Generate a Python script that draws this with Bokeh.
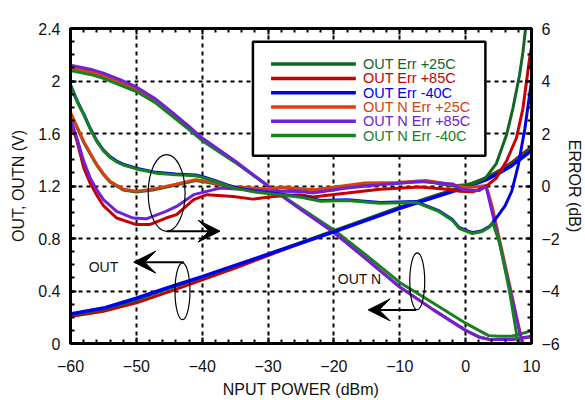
from bokeh.plotting import figure
from bokeh.models import Range1d, LinearAxis, FixedTicker, Arrow, VeeHead, ColumnDataSource
from bokeh.core.properties import value
from bokeh.embed import file_html
from bokeh.resources import INLINE

FONT = "Liberation Sans"

# ---------------- data ----------------
C_OUT25 = "#146428"
C_OUT85 = "#c80000"
C_OUT40 = "#0000f0"
C_N25 = "#d94010"
C_N85 = "#7020d8"
C_N40 = "#17801f"

legend_labels = ["OUT Err +25C", "OUT Err +85C", "OUT Err  -40C",
                 "OUT N Err +25C", "OUT N Err +85C", "OUT N Err  -40C"]
legend_colors = [C_OUT25, C_OUT85, C_OUT40, C_N25, C_N85, C_N40]

x_ticks = [-60, -50, -40, -30, -20, -10, 0, 10]
v_ticks = [0, 0.4, 0.8, 1.2, 1.6, 2, 2.4]
v_tick_labels = ["0", "0.4", "0.8", "1.2", "1.6", "2", "2.4"]
e_ticks = [-6, -4, -2, 0, 2, 4, 6]

x_title = "NPUT POWER (dBm)"
y_title = "OUT, OUTN (V)"
y2_title = "ERROR (dB)"

# OUT voltage (V)
x_out_v = [-60, -55, -50, -45, -40, -35, -30, -25, -20, -15, -10, -5, 0, 3, 5, 7, 10]
out_v_40 = [0.225, 0.27, 0.345, 0.43, 0.51, 0.595, 0.68, 0.765, 0.85, 0.94, 1.03, 1.11, 1.19, 1.245, 1.295, 1.355, 1.47]
out_v_25 = [0.215, 0.26, 0.33, 0.42, 0.505, 0.59, 0.68, 0.77, 0.86, 0.95, 1.04, 1.12, 1.2, 1.26, 1.31, 1.37, 1.49]
out_v_85 = [0.205, 0.245, 0.31, 0.395, 0.485, 0.575, 0.67, 0.765, 0.855, 0.945, 1.035, 1.12, 1.2, 1.26, 1.315, 1.38, 1.5]

# OUT N voltage (V)
x_outn_v = [-60, -57, -55, -52, -50, -47, -45, -42, -40, -35, -30, -25, -20, -15, -10, -5, 0, 2, 3.5, 5, 7, 10]
outn_v_85 = [2.12, 2.09, 2.06, 2.0, 1.955, 1.86, 1.78, 1.655, 1.565, 1.39, 1.2, 1.02, 0.845, 0.64, 0.43, 0.26, 0.1, 0.05, 0.033, 0.03, 0.03, 0.055]
outn_v_25 = [2.10, 2.07, 2.04, 1.98, 1.94, 1.85, 1.77, 1.645, 1.555, 1.385, 1.2, 1.02, 0.845, 0.64, 0.43, 0.26, 0.1, 0.05, 0.033, 0.03, 0.03, 0.05]
outn_v_40 = [2.08, 2.05, 2.02, 1.96, 1.92, 1.83, 1.75, 1.63, 1.545, 1.38, 1.2, 1.03, 0.865, 0.67, 0.465, 0.31, 0.155, 0.1, 0.06, 0.055, 0.055, 0.096]

# Errors (dB)
x_err_out40 = [-60, -59, -58, -57, -56, -55, -54, -53, -52, -50, -47, -44, -41, -40, -38, -35, -32, -30, -25, -22, -18, -13, -7.5, -6.5, -4, -2, -1, 1, 2.5, 3.6, 4.1, 5, 6, 7, 8, 9, 10]
err_out40 = [3.85, 3.25, 2.75, 2.2, 1.72, 1.37, 1.12, 0.95, 0.83, 0.68, 0.52, 0.46, 0.42, 0.36, 0.2, -0.06, -0.2, -0.26, -0.4, -0.55, -0.52, -0.63, -0.59, -0.7, -0.95, -1.28, -1.58, -1.78, -1.7, -1.54, -1.4, -1.1, -0.75, -0.2, 0.8, 2.2, 4.0]

x_err_n40 = [-60, -59, -58, -57, -56, -55, -54, -53, -52, -50, -47, -44, -41, -40, -38, -35, -32, -30, -25, -22, -18, -13, -7.5, -6.5, -4, -2, -1, 1, 2.5, 3.6, 4.1, 5.15, 6.7, 7.7, 8.0]
err_n40 = [3.82, 3.22, 2.72, 2.17, 1.69, 1.34, 1.09, 0.92, 0.8, 0.65, 0.49, 0.43, 0.39, 0.33, 0.17, -0.09, -0.23, -0.29, -0.43, -0.58, -0.55, -0.66, -0.62, -0.73, -0.98, -1.31, -1.61, -1.81, -1.73, -1.57, -1.4, -2.15, -4.06, -5.58, -6.0]

x_err_n25 = [-60, -59, -58, -57, -56, -55, -54, -52, -50, -47.5, -44, -41, -39.3, -35.3, -30, -28, -23, -15.6, -10.5, -6, -2, 0, 2, 3.1, 4.0, 5.6, 8.2, 8.6]
err_n25 = [2.8, 2.25, 1.7, 1.25, 0.82, 0.47, 0.18, -0.12, -0.2, -0.12, 0.07, 0.24, 0.17, -0.02, -0.12, -0.04, -0.14, 0.11, 0.13, 0.21, 0.05, -0.06, -0.02, 0.02, -0.75, -2.55, -5.5, -6.0]

x_err_out25 = [-60, -59, -58, -57, -56, -55, -54, -52, -50, -47.5, -44, -41, -39.3, -35.3, -30, -28, -23, -15.6, -10.5, -6, -2, 0, 1.6, 3.1, 4.65, 6.2, 7.17, 8.18, 8.7, 9.1]
err_out25 = [2.77, 2.22, 1.67, 1.22, 0.79, 0.44, 0.15, -0.15, -0.23, -0.15, 0.04, 0.21, 0.14, -0.05, -0.15, -0.07, -0.17, 0.08, 0.1, 0.18, 0.0, 0.05, 0.12, 0.33, 0.85, 1.94, 2.95, 4.22, 5.1, 6.0]

x_err_n85 = [-60, -59, -58, -57, -56, -55, -53, -50.5, -48.5, -45.5, -43.9, -41.3, -37.3, -33, -30, -25.2, -23.2, -18, -13, -7, -2, -0.5, 2.1, 3.1, 5.6, 8.2, 8.7]
err_n85 = [2.55, 1.8, 0.95, 0.3, -0.15, -0.52, -0.97, -1.22, -1.25, -0.97, -0.78, -0.33, -0.08, -0.14, -0.2, -0.21, -0.27, -0.08, 0.05, 0.17, 0.08, -0.14, -0.17, -0.02, -2.67, -5.57, -6.0]

x_err_out85 = [-60, -59, -58, -57, -56, -55, -53, -50, -48, -45.5, -43.9, -41.3, -39.3, -35.3, -32.3, -29.2, -25.2, -23.2, -18, -13, -7, -2, -0.9, 1.1, 3.1, 4.65, 6.2, 7.7, 8.7, 9.7, 10]
err_out85 = [2.45, 1.7, 0.7, 0.1, -0.35, -0.75, -1.22, -1.47, -1.47, -1.22, -1.09, -0.52, -0.33, -0.4, -0.5, -0.4, -0.33, -0.42, -0.27, -0.12, -0.04, -0.14, -0.2, -0.22, -0.02, 0.3, 0.95, 1.82, 2.95, 4.85, 5.3]

# annotation geometry (data units, left axis)
ell_x = [-45.4, -43.0, -7.35]
ell_y = [1.147, 0.398, 0.474]
ell_w = [5.6, 2.27, 2.27]
ell_h = [0.585, 0.433, 0.433]
arrows = [(-45.35, 0.856, -37.3, 0.856), (-42.8, 0.62, -50.4, 0.62), (-7.5, 0.256, -14.8, 0.256)]
note_text = ["OUT", "OUT N"]
note_x = [-55.0, -16.1]
note_y = [0.58, 0.49]

# legend layout (data units)
leg_box = (-32.3, 3.0, 1.43, 2.30)
leg_line_x0, leg_line_x1, leg_text_x = -29.55, -16.67, -15.6
leg_y0, leg_dy = 2.129, 0.109

# ---------------- figure ----------------
p = figure(width=585, height=400, x_range=Range1d(-60, 10), y_range=Range1d(0, 2.4),
           output_backend="svg", toolbar_location=None,
           min_border_left=70, min_border_right=53, min_border_top=28, min_border_bottom=56)
p.extra_y_ranges = {"err": Range1d(-6, 6)}
p.background_fill_color = "white"
p.border_fill_color = "white"
p.outline_line_color = "black"
p.outline_line_width = 3

x_minor = [v for v in range(-60, 11, 2) if v not in x_ticks]
v_minor = [round(i * 0.1, 1) for i in range(0, 25)]
e_minor = [i * 0.5 for i in range(-12, 13)]


def style_axis(ax):
    ax.axis_line_width = 3
    ax.axis_line_color = "black"
    ax.major_tick_in = 6
    ax.major_tick_out = 0
    ax.minor_tick_in = 4
    ax.minor_tick_out = 0
    ax.major_tick_line_width = 2
    ax.minor_tick_line_width = 2
    ax.major_label_text_font = FONT
    ax.major_label_text_font_size = "16px"
    ax.major_label_text_color = "#111111"
    ax.axis_label_text_font = FONT
    ax.axis_label_text_font_size = "16px"
    ax.axis_label_text_font_style = "normal"
    ax.axis_label_text_color = "#111111"


xa = p.xaxis[0]
xa.ticker = FixedTicker(ticks=x_ticks, minor_ticks=x_minor)
style_axis(xa)
xa.axis_label = x_title
xa.major_label_standoff = 16
xa.axis_label_standoff = 6

ya = p.yaxis[0]
ya.ticker = FixedTicker(ticks=v_ticks, minor_ticks=v_minor)
ya.major_label_overrides = {t: s for t, s in zip(v_ticks, v_tick_labels)}
style_axis(ya)
ya.axis_label = y_title
ya.major_label_standoff = 10
ya.axis_label_standoff = 8

ra = LinearAxis(y_range_name="err", ticker=FixedTicker(ticks=e_ticks, minor_ticks=e_minor))
style_axis(ra)
ra.axis_label = y2_title
ra.major_label_standoff = 10
ra.axis_label_standoff = 3
p.add_layout(ra, "right")

ta = LinearAxis(ticker=FixedTicker(ticks=x_ticks, minor_ticks=x_minor))
style_axis(ta)
ta.major_label_overrides = {t: "" for t in x_ticks}
ta.major_label_standoff = 0
p.add_layout(ta, "above")

for g in (p.xgrid[0], p.ygrid[0]):
    g.grid_line_color = "black"
    g.grid_line_dash = "4 4"
    g.grid_line_width = 2
p.xgrid[0].ticker = FixedTicker(ticks=x_ticks)
p.ygrid[0].ticker = FixedTicker(ticks=v_ticks)

LW = 3
# OUT N voltage
p.line(x_outn_v, outn_v_25, color=C_N25, line_width=LW)
p.line(x_outn_v, outn_v_40, color=C_N40, line_width=LW)
p.line(x_outn_v, outn_v_85, color=C_N85, line_width=LW)
# OUT voltage
p.line(x_out_v, out_v_85, color=C_OUT85, line_width=LW)
p.line(x_out_v, out_v_25, color=C_OUT25, line_width=LW)
p.line(x_out_v, out_v_40, color=C_OUT40, line_width=LW + 0.5)
# errors
p.line(x_err_out25, err_out25, color=C_OUT25, line_width=LW, y_range_name="err")
p.line(x_err_n25, err_n25, color=C_N25, line_width=LW, y_range_name="err")
p.line(x_err_out85, err_out85, color=C_OUT85, line_width=LW, y_range_name="err")
p.line(x_err_n85, err_n85, color=C_N85, line_width=LW, y_range_name="err")
p.line(x_err_out40, err_out40, color=C_OUT40, line_width=LW, y_range_name="err")
p.line(x_err_n40, err_n40, color=C_N40, line_width=LW, y_range_name="err")

# annotations
p.ellipse(x=ell_x, y=ell_y, width=ell_w, height=ell_h, fill_alpha=0,
          line_color="black", line_width=1.2)
for (x0, y0, x1, y1) in arrows:
    p.add_layout(Arrow(end=VeeHead(size=22, fill_color="black", line_color="black"),
                       x_start=x0, y_start=y0, x_end=x1, y_end=y1,
                       line_color="black", line_width=2))
p.text(x=note_x, y=note_y, text=note_text, text_font=value(FONT), text_font_size="14px",
       text_align="center", text_baseline="middle", text_color="#111111")

# legend box
l, r, b, t = leg_box
p.quad(left=[l], right=[r], bottom=[b], top=[t], fill_color="white",
       line_color="black", line_width=2.5)
leg_y = [leg_y0 - i * leg_dy for i in range(len(legend_labels))]
src = ColumnDataSource(dict(x0=[leg_line_x0] * 6, x1=[leg_line_x1] * 6, xt=[leg_text_x] * 6,
                            y=leg_y, c=legend_colors, t=legend_labels))
p.segment(x0="x0", y0="y", x1="x1", y1="y", color="c", line_width=LW + 0.5, source=src)
p.text(x="xt", y="y", text="t", text_color="c", text_font=value(FONT),
       text_font_size="14.5px", text_baseline="middle", text_align="left", source=src)

open("out.html", "w").write(file_html(p, INLINE))
